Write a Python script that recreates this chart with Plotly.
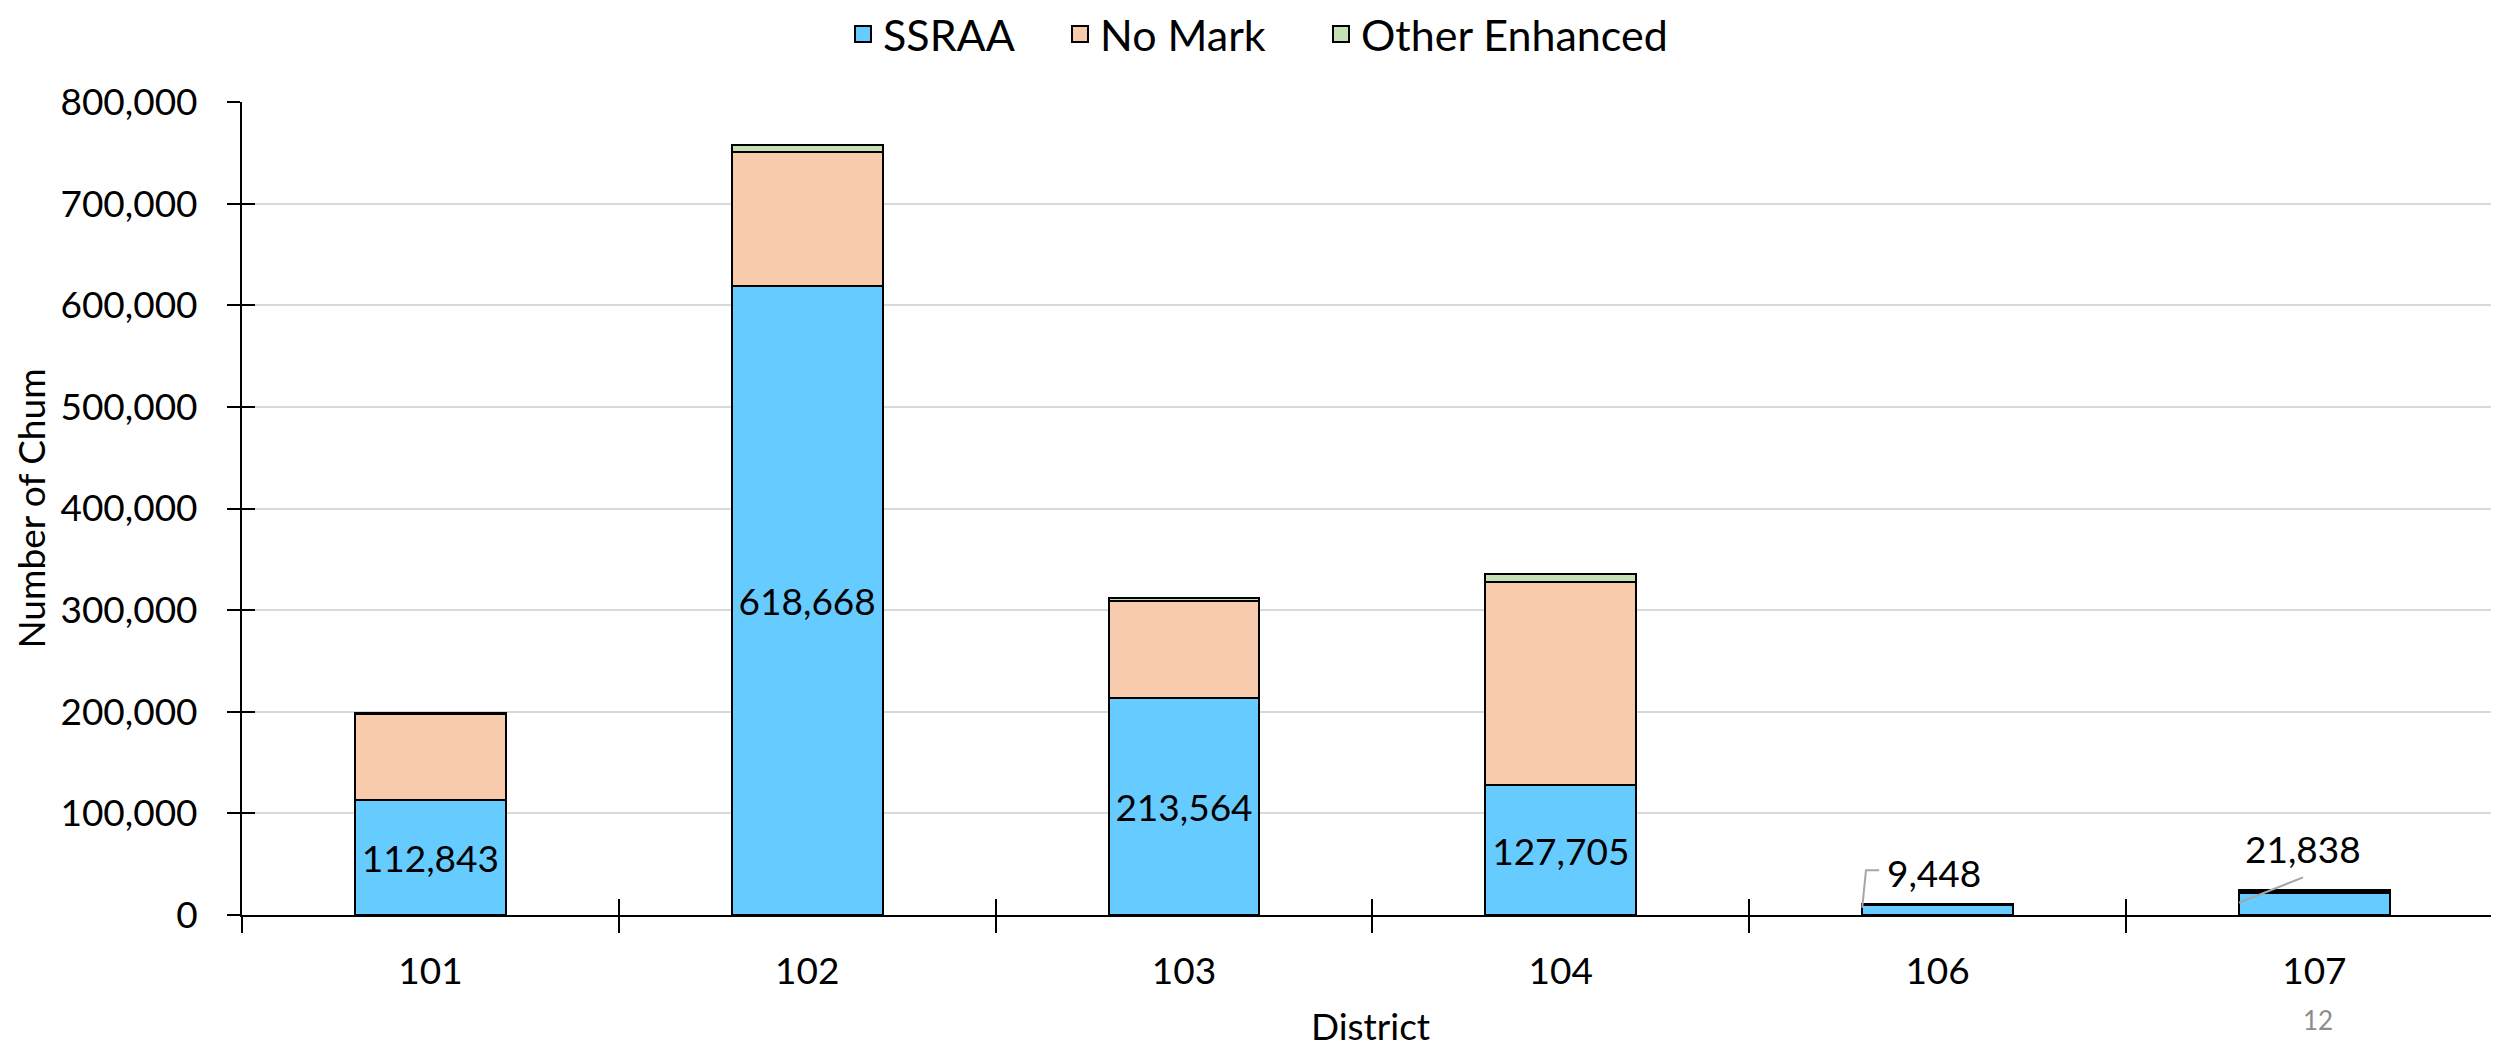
import plotly.graph_objects as go

districts = ["101", "102", "103", "104", "106", "107"]
ssraa = [112843, 618668, 213564, 127705, 9448, 21838]
no_mark = [85000, 132500, 95500, 199700, 1000, 1600]
other_enh = [800, 6500, 2500, 8200, 400, 700]
y_ticks = [0, 100000, 200000, 300000, 400000, 500000, 600000, 700000, 800000]
series_names = ["SSRAA", "No Mark", "Other Enhanced"]
series_colors = ["#66CCFF", "#F8CBAD", "#C5E0B4"]
page_number = "12"

# labels drawn inside the bar for tall bars; small bars get leader-line callouts
inside = [v > 50000 for v in ssraa]

FONT = "Lato, 'Open Sans', sans-serif"
BAR_W = 0.4
# the page body has an 8px margin, so the figure is sized/offset to compensate
W, H = 2491, 1040
ML, MR, MT, MB = 234, 0, 94, 133

fig = go.Figure()
for k, (name, vals, col) in enumerate(zip(series_names, [ssraa, no_mark, other_enh], series_colors)):
    kw = {}
    if k == 0:
        kw = dict(text=[f"{v:,}" if ins else "" for v, ins in zip(vals, inside)],
                  textposition="inside", insidetextanchor="middle", textangle=0,
                  textfont=dict(family=FONT, size=37, color="black"))
    fig.add_trace(go.Bar(
        name=name, x=districts, y=vals, width=BAR_W, showlegend=False,
        marker=dict(color=col, line=dict(color="black", width=2)), **kw))

# legend entries (one legend per entry so spacing matches the reference)
legend_ids = ["legend", "legend2", "legend3"]
for name, col, lid in zip(series_names, series_colors, legend_ids):
    fig.add_trace(go.Scatter(
        name=name, x=[None], y=[None], mode="markers", legend=lid,
        marker=dict(symbol="square", size=26, color=col, line=dict(color="black", width=2)),
        hoverinfo="skip"))

# dummy trace for overlay axes (crossing tick marks)
fig.add_trace(go.Scatter(x=[None], y=[None], xaxis="x2", yaxis="y2",
                         showlegend=False, hoverinfo="skip"))

n = len(districts)
annotations = []
shapes = []
for i, (v, ins) in enumerate(zip(ssraa, inside)):
    if ins:
        continue
    left = i - BAR_W / 2
    total = ssraa[i] + no_mark[i] + other_enh[i]
    if total < 15000:
        shapes.append(dict(type="path", xref="x2", yref="y",
                           path=f"M {left},{total*0.65} L {left+0.01},44000 L {left+0.045},44000",
                           line=dict(color="#a6a6a6", width=2)))
        annotations.append(dict(x=left + 0.06, y=42000, xref="x2", yref="y",
                                text=f"{v:,}", showarrow=False, xanchor="left", yanchor="middle",
                                font=dict(family=FONT, size=37, color="black")))
    else:
        shapes.append(dict(type="line", xref="x2", yref="y",
                           x0=left, y0=total*0.5, x1=i - 0.03, y1=37000,
                           line=dict(color="#a6a6a6", width=2)))
        annotations.append(dict(x=i - 0.03, y=65000, xref="x2", yref="y",
                                text=f"{v:,}", showarrow=False, xanchor="center", yanchor="middle",
                                font=dict(family=FONT, size=37, color="black")))

pw, ph = W - ML - MR, H - MT - MB
annotations.append(dict(x=(2310 - ML) / pw, y=(H - MB - 1012) / ph, xref="paper", yref="paper",
                        text=page_number, showarrow=False, xanchor="center", yanchor="middle",
                        font=dict(family=FONT, size=26, color="#8c8c8c")))

xr = [-0.5, n - 0.51]

legend_common = dict(orientation="h", xref="container", yref="container",
                     xanchor="left", y=1 - 26 / H, yanchor="middle",
                     font=dict(family=FONT, size=43, color="black"),
                     itemsizing="trace", bgcolor="rgba(0,0,0,0)")
legend_x = [835, 1052, 1313]

fig.update_layout(
    width=W, height=H,
    margin=dict(l=ML, r=MR, t=MT, b=MB, autoexpand=False),
    paper_bgcolor="white", plot_bgcolor="white",
    barmode="stack",
    bargap=0.6,
    showlegend=True,
    legend=dict(x=legend_x[0] / W, **legend_common),
    legend2=dict(x=legend_x[1] / W, **legend_common),
    legend3=dict(x=legend_x[2] / W, **legend_common),
    xaxis=dict(type="category", range=xr, tickson="boundaries",
               ticks="outside", ticklen=16, tickwidth=2, tickcolor="black",
               showline=True, linecolor="black", linewidth=2,
               showgrid=False, zeroline=False,
               tickfont=dict(family=FONT, size=37, color="black"),
               ticklabelstandoff=23,
               title=dict(text="District", font=dict(family=FONT, size=37, color="black"),
                          standoff=31)),
    yaxis=dict(range=[0, 800000], tickvals=y_ticks, tickformat=",",
               ticks="outside", ticklen=13, tickwidth=2, tickcolor="black",
               showline=True, linecolor="black", linewidth=2,
               showgrid=True, gridcolor="#d9d9d9", gridwidth=2, zeroline=False,
               tickfont=dict(family=FONT, size=37, color="black"),
               ticklabelstandoff=22,
               title=dict(text="Number of Chum", font=dict(family=FONT, size=37, color="black"),
                          standoff=13)),
    xaxis2=dict(overlaying="x", anchor="y2", range=xr,
                tickvals=[k - 0.5 for k in range(n + 1)],
                ticks="inside", ticklen=16, tickwidth=2, tickcolor="black",
                showticklabels=False, showgrid=False, zeroline=False, showline=False),
    yaxis2=dict(overlaying="y", anchor="x2", range=[0, 800000], tickvals=y_ticks,
                ticks="inside", ticklen=13, tickwidth=2, tickcolor="black",
                showticklabels=False, showgrid=False, zeroline=False, showline=False),
    annotations=annotations,
    shapes=shapes,
)

fig.write_html("out.html")
